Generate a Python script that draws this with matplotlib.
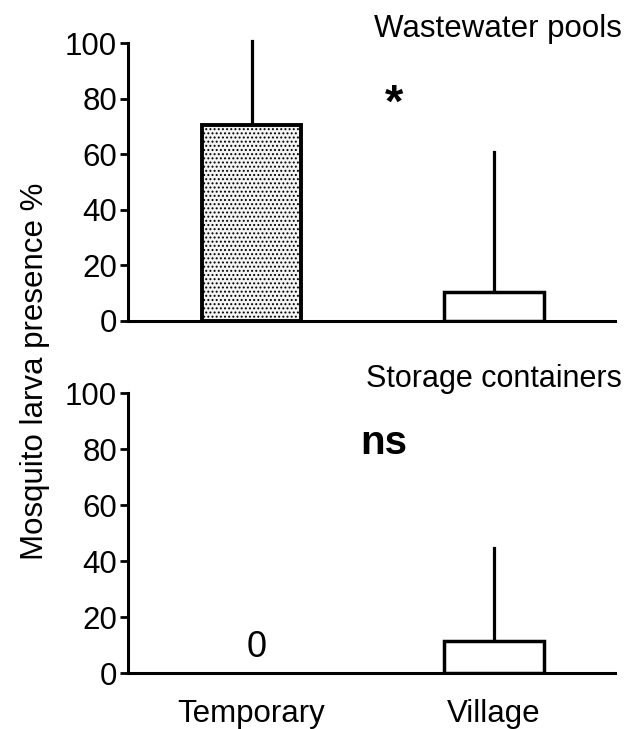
import matplotlib
matplotlib.use("Agg")
import matplotlib.pyplot as plt

plt.rcParams['font.family'] = ['Liberation Sans', 'DejaVu Sans']
plt.rcParams['hatch.linewidth'] = 0.9
plt.rcParams['hatch.color'] = '#444444'

# dados
grupos = ["Temporary", "Village"]
pools_media = [70.5, 10.4]
pools_erro = [30.3, 50.3]
containers_media = [0, 11.5]
containers_erro = [0, 33.0]

fig = plt.figure(figsize=(6.35, 7.29), dpi=100)
ax1 = fig.add_axes([0.2016, 0.5597, 0.767, 0.381])
ax2 = fig.add_axes([0.2016, 0.0768, 0.767, 0.384])

pos = [0, 1]

def estilo(ax):
    ax.set_ylim(0, 100)
    ax.set_xlim(-0.51, 1.5)
    ax.set_yticks([0, 20, 40, 60, 80, 100])
    ax.spines['top'].set_visible(False)
    ax.spines['right'].set_visible(False)
    ax.spines['left'].set_linewidth(2.2)
    ax.spines['bottom'].set_linewidth(2.2)
    ax.tick_params(axis='y', length=6, width=2, labelsize=22.5, pad=2)
    ax.tick_params(axis='x', length=0, labelsize=22.5, pad=19)

# painel superior
ax1.bar(pos[0], pools_media[0], width=0.41, facecolor='#f4f4f4', edgecolor='black',
        linewidth=2.8, hatch='....', zorder=3)
ax1.bar(pos[1], pools_media[1], width=0.41, facecolor='white', edgecolor='black',
        linewidth=2.5, zorder=3)
for x, m, e in zip(pos, pools_media, pools_erro):
    ax1.plot([x, x], [m, m + e], color='black', lw=2.3, zorder=2, clip_on=False)
estilo(ax1)
ax1.set_xticks([])
ax1.text(1.53, 105, "Wastewater pools", ha='right', va='center', fontsize=22.5)
ax1.text(0.59, 78, "*", ha='center', va='center', fontsize=34, fontweight='bold')

# painel inferior
ax2.bar(pos[1], containers_media[1], width=0.41, facecolor='white', edgecolor='black',
        linewidth=2.5, zorder=3)
for x, m, e in zip(pos, containers_media, containers_erro):
    if e > 0:
        ax2.plot([x, x], [m, m + e], color='black', lw=2.3, zorder=2, clip_on=False)
estilo(ax2)
ax2.set_xticks(pos)
ax2.set_xticklabels(grupos)
ax2.text(1.53, 105, "Storage containers", ha='right', va='center', fontsize=22)
ax2.text(0.545, 82, "ns", ha='center', va='center', fontsize=29, fontweight='bold')
ax2.text(0.02, 9, "0", ha='center', va='center', fontsize=26)

fig.text(0.055, 0.49, "Mosquito larva presence %", rotation=90, ha='center', va='center',
         fontsize=22.5)

fig.savefig("out.png", dpi=100)
